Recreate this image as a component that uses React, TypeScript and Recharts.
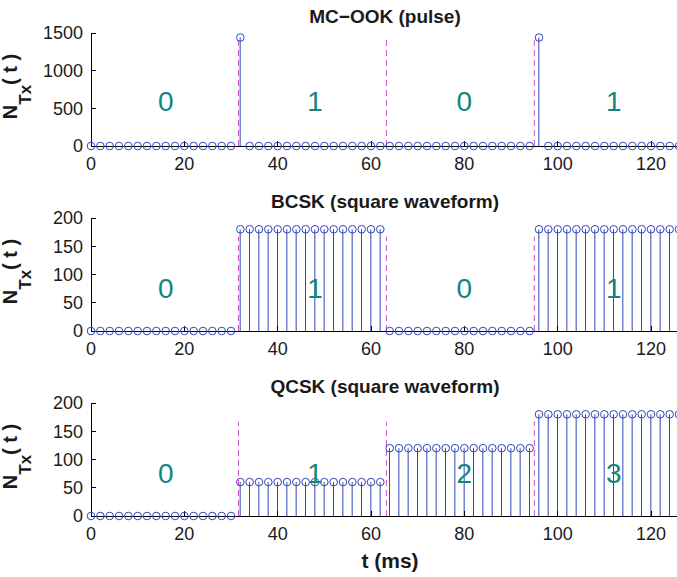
import { Bar, ComposedChart, ReferenceLine, Scatter, XAxis, YAxis } from 'recharts';

// sample instants (ms)
const time = [
  0, 2, 4, 6, 8, 10, 12, 14, 16, 18, 20, 22, 24, 26, 28, 30,
  32, 34, 36, 38, 40, 42, 44, 46, 48, 50, 52, 54, 56, 58, 60, 62,
  64, 66, 68, 70, 72, 74, 76, 78, 80, 82, 84, 86, 88, 90, 92, 94,
  96, 98, 100, 102, 104, 106, 108, 110, 112, 114, 116, 118, 120, 122, 124, 126,
];

// molecules released per sample
const ookValues = [
  0, 0, 0, 0, 0, 0, 0, 0, 0, 0, 0, 0, 0, 0, 0, 0,
  1440, 0, 0, 0, 0, 0, 0, 0, 0, 0, 0, 0, 0, 0, 0, 0,
  0, 0, 0, 0, 0, 0, 0, 0, 0, 0, 0, 0, 0, 0, 0, 0,
  1440, 0, 0, 0, 0, 0, 0, 0, 0, 0, 0, 0, 0, 0, 0, 0,
];
const bcskValues = [
  0, 0, 0, 0, 0, 0, 0, 0, 0, 0, 0, 0, 0, 0, 0, 0,
  180, 180, 180, 180, 180, 180, 180, 180, 180, 180, 180, 180, 180, 180, 180, 180,
  0, 0, 0, 0, 0, 0, 0, 0, 0, 0, 0, 0, 0, 0, 0, 0,
  180, 180, 180, 180, 180, 180, 180, 180, 180, 180, 180, 180, 180, 180, 180, 180,
];
const qcskValues = [
  0, 0, 0, 0, 0, 0, 0, 0, 0, 0, 0, 0, 0, 0, 0, 0,
  60, 60, 60, 60, 60, 60, 60, 60, 60, 60, 60, 60, 60, 60, 60, 60,
  120, 120, 120, 120, 120, 120, 120, 120, 120, 120, 120, 120, 120, 120, 120, 120,
  180, 180, 180, 180, 180, 180, 180, 180, 180, 180, 180, 180, 180, 180, 180, 180,
];

const xTicks = [0, 20, 40, 60, 80, 100, 120];
const ookTicks = [0, 500, 1000, 1500];
const cskTicks = [0, 50, 100, 150, 200];

// symbol boundaries and the symbol written in each slot
const boundaries = [31.6, 63.3, 95];
const symbolCentres = [16, 48, 80, 112];
const binarySymbols = ['0', '1', '0', '1'];
const quaternarySymbols = ['0', '1', '2', '3'];

const FONT = '"Liberation Sans", Arial, Helvetica, sans-serif';
const BLUE = '#3347b8';
const MAGENTA = '#d04fd0';
const TEAL = '#13857f';
const PANEL_STEP = 185;

type PanelProps = {
  values: number[];
  yMax: number;
  yTicks: number[];
  symbols: string[];
  symbolY: number;
  boundaryTop: number;
  top: number;
};

const Stem = (props: any) => {
  const { x, y, width, height } = props;
  if (!height) return <g />;
  const cx = x + width / 2;
  return <line x1={cx} x2={cx} y1={y} y2={y + height} stroke={BLUE} strokeWidth={1} />;
};

const OpenCircle = (props: any) => (
  <circle cx={props.cx} cy={props.cy} r={3.8} fill="none" stroke={BLUE} strokeWidth={1} />
);

const SymbolText = (props: any) => (
  <text
    x={props.cx}
    y={props.cy}
    textAnchor="middle"
    dominantBaseline="central"
    fill={TEAL}
    fontSize={28}
    fontFamily={FONT}
  >
    {props.payload.label}
  </text>
);

function Panel({ values, yMax, yTicks, symbols, symbolY, boundaryTop, top }: PanelProps) {
  const data = time.map((t, i) => ({ t, v: values[i] }));
  const symbolPoints = symbolCentres.map((t, i) => ({ t, y: symbolY, label: symbols[i] }));
  const tickStyle = { fontSize: 18, fill: '#1a1a1a', fontFamily: FONT };
  const axisLine = { stroke: '#000', shapeRendering: 'crispEdges' };

  return (
    <div style={{ position: 'absolute', left: 0, top }}>
      <ComposedChart
        width={680}
        height={185}
        data={data}
        margin={{ top: 33, right: 1, bottom: 0, left: 0 }}
      >
        <XAxis
          dataKey="t"
          type="number"
          domain={[0, 126]}
          ticks={xTicks}
          height={39}
          tickSize={-5}
          tickMargin={16}
          tick={tickStyle}
          axisLine={axisLine}
          tickLine={axisLine}
        />
        <XAxis
          xAxisId="top"
          orientation="top"
          type="number"
          domain={[0, 126]}
          ticks={xTicks}
          height={0}
          tick={false}
          tickSize={-5}
          axisLine={axisLine}
          tickLine={axisLine}
        />
        <YAxis
          type="number"
          domain={[0, yMax]}
          ticks={yTicks}
          width={91}
          tickSize={-5}
          tickMargin={13}
          tick={tickStyle}
          axisLine={axisLine}
          tickLine={axisLine}
        />
        <YAxis
          yAxisId="right"
          orientation="right"
          type="number"
          domain={[0, yMax]}
          ticks={yTicks}
          width={0}
          tick={false}
          tickSize={-5}
          axisLine={axisLine}
          tickLine={axisLine}
        />
        {boundaries.map((b) => (
          <ReferenceLine
            key={b}
            segment={[
              { x: b, y: 0 },
              { x: b, y: boundaryTop },
            ]}
            stroke={MAGENTA}
            strokeDasharray="6 4"
          />
        ))}
        <Bar dataKey="v" barSize={1} shape={<Stem />} isAnimationActive={false} />
        <Scatter dataKey="v" shape={<OpenCircle />} isAnimationActive={false} />
        <Scatter
          data={symbolPoints}
          dataKey="y"
          shape={<SymbolText />}
          isAnimationActive={false}
        />
      </ComposedChart>
    </div>
  );
}

const titles = ['MC\u2212OOK (pulse)', 'BCSK (square waveform)', 'QCSK (square waveform)'];

export default function App() {
  return (
    <div
      style={{
        position: 'absolute',
        left: 0,
        top: 0,
        width: 677,
        height: 577,
        overflow: 'hidden',
        background: '#fff',
      }}
    >
      <Panel
        values={ookValues}
        yMax={1500}
        yTicks={ookTicks}
        symbols={binarySymbols}
        symbolY={590}
        boundaryTop={1450}
        top={0}
      />
      <Panel
        values={bcskValues}
        yMax={200}
        yTicks={cskTicks}
        symbols={binarySymbols}
        symbolY={75}
        boundaryTop={167}
        top={PANEL_STEP}
      />
      <Panel
        values={qcskValues}
        yMax={200}
        yTicks={cskTicks}
        symbols={quaternarySymbols}
        symbolY={75}
        boundaryTop={167}
        top={PANEL_STEP * 2}
      />
      <svg
        width={677}
        height={577}
        style={{ position: 'absolute', left: 0, top: 0, pointerEvents: 'none' }}
        fontFamily={FONT}
        fontWeight="bold"
        fill="#1a1a1a"
      >
        {titles.map((title, i) => (
          <text key={title} x={385} y={23 + PANEL_STEP * i} textAnchor="middle" fontSize={19}>
            {title}
          </text>
        ))}
        {titles.map((title, i) => (
          <text
            key={'y' + title}
            transform={`translate(17 ${86.5 + PANEL_STEP * i}) rotate(-90)`}
            textAnchor="middle"
            fontSize={20}
          >
            N
            <tspan fontSize={17} dy={14}>
              Tx
            </tspan>
            <tspan dy={-14}>( t )</tspan>
          </text>
        ))}
        <text x={390} y={568} textAnchor="middle" fontSize={21}>
          t (ms)
        </text>
      </svg>
    </div>
  );
}
